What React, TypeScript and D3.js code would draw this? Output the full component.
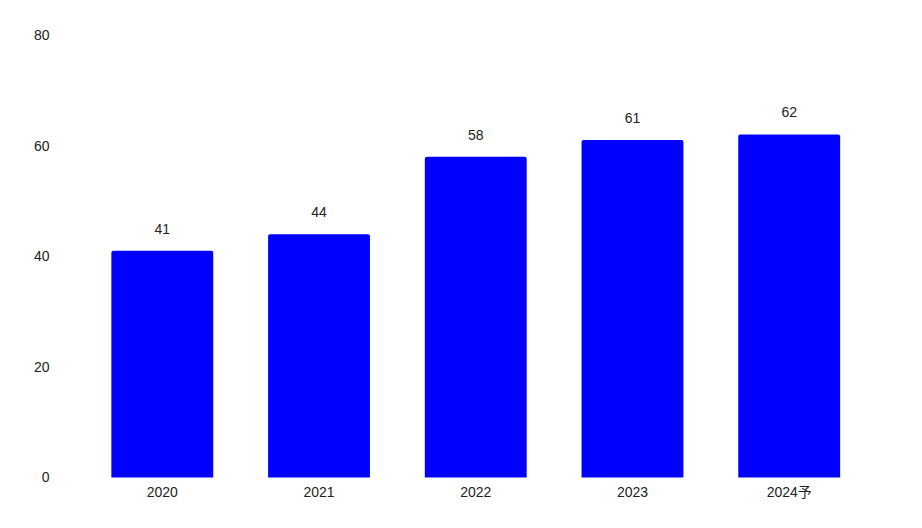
import * as d3 from "d3";

const years = ["2020", "2021", "2022", "2023", "2024予"];
const values = [41, 44, 58, 61, 62];
const yTicks = [0, 20, 40, 60, 80];

const width = 922;
const height = 528;

export default function App() {
  const x = d3.scaleBand().domain(years).range([56.5, 895]).padding(0.35);
  const y = d3.scaleLinear().domain([0, 80]).range([477.5, 35]);
  const r = 2;

  const barPath = (d: number, i: number) => {
    const x0 = x(years[i])!;
    const x1 = x0 + x.bandwidth();
    const y0 = y(0);
    const y1 = y(d);
    const p = d3.path();
    p.moveTo(x0, y0);
    p.lineTo(x0, y1 + r);
    p.quadraticCurveTo(x0, y1, x0 + r, y1);
    p.lineTo(x1 - r, y1);
    p.quadraticCurveTo(x1, y1, x1, y1 + r);
    p.lineTo(x1, y0);
    p.closePath();
    return p.toString();
  };

  return (
    <svg
      width={width}
      height={height}
      style={{ position: "absolute", left: 0, top: 0, fontFamily: "'Liberation Sans', Arial, sans-serif" }}
    >
      <rect width={width} height={height} fill="#fff" />
      <g fontSize={14} fill="#222">
        {yTicks.map(t => (
          <text key={t} x={49.5} y={y(t)} dy="0.35em" textAnchor="end">
            {t}
          </text>
        ))}
      </g>
      <g>
        {values.map((d, i) => (
          <path key={years[i]} d={barPath(d, i)} fill="#0000ff" />
        ))}
      </g>
      <g fontSize={14} fill="#222" textAnchor="middle">
        {values.map((d, i) => (
          <text key={years[i]} x={x(years[i])! + x.bandwidth() / 2} y={y(d) - 22} dy="0.35em">
            {d}
          </text>
        ))}
        {years.map(c => (
          <text key={c} x={x(c)! + x.bandwidth() / 2} y={492.5} dy="0.35em"
            style={{ fontFamily: "'Liberation Sans', Arial, 'Noto Sans CJK JP', sans-serif" }}>
            {c}
          </text>
        ))}
      </g>
    </svg>
  );
}
